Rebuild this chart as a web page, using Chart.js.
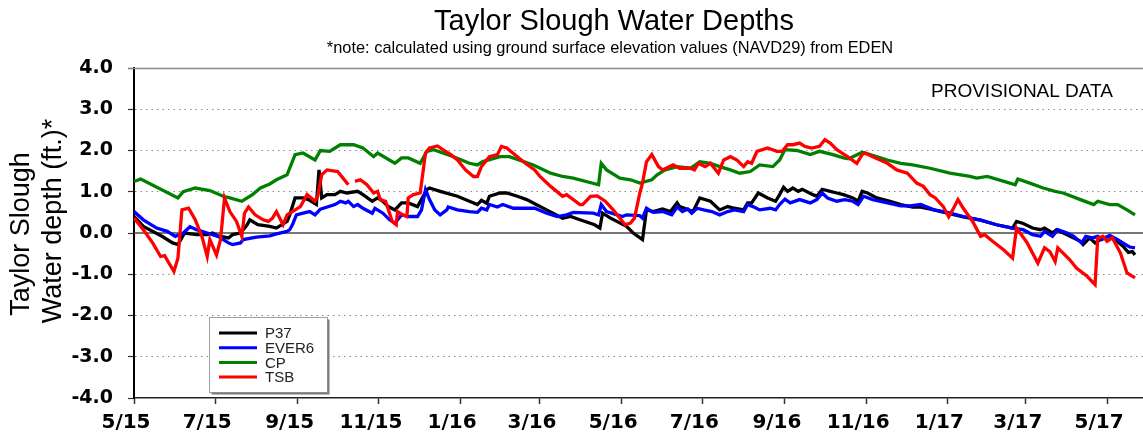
<!DOCTYPE html>
<html>
<head>
<meta charset="utf-8">
<title>Taylor Slough Water Depths</title>
<script src="https://cdn.jsdelivr.net/npm/chart.js@4.4.1/dist/chart.umd.min.js"></script>
<style>
  html, body { margin: 0; padding: 0; background: #fff; }
</style>
</head>
<body>
<canvas id="depths" width="1143" height="441"></canvas>
<script>
// day numbers are counted from 1 May 2015
const START = Date.UTC(2015, 4, 1);
const dayOf = s => { const [y, m, d] = s.split('-').map(Number); return (Date.UTC(y, m - 1, d) - START) / 864e5; };

const tickMonths = ['2015-05-01', '2015-07-01', '2015-09-01', '2015-11-01', '2016-01-01', '2016-03-01', '2016-05-01',
                    '2016-07-01', '2016-09-01', '2016-11-01', '2017-01-01', '2017-03-01', '2017-05-01'];
const tickLabels = ['5/15', '7/15', '9/15', '11/15', '1/16', '3/16', '5/16', '7/16', '9/16', '11/16', '1/17', '3/17', '5/17'];
const depthTicks = [-4, -3, -2, -1, 0, 1, 2, 3, 4];
const LAST_DAY = 758;

const seriesNames = ['P37', 'EVER6', 'CP', 'TSB'];
const seriesColors = ['#000000', '#0000ff', '#008000', '#ff0000'];

const p37Days = [
  0, 7, 21, 29, 33, 38, 47, 55, 59, 63,
  71, 74, 80, 85, 87, 93, 102, 107, 115, 117,
  121, 127, 131, 137, 139, 141, 145, 151, 155, 160,
  168, 172, 179, 183, 187, 191, 196, 201, 206, 213,
  220, 222, 230, 243, 252, 258, 261, 265, 267, 275,
  280, 288, 295, 301, 310, 322, 328, 335, 346, 350,
  352, 358, 370, 375, 382, 385, 390, 397, 403, 408,
  410, 420, 425, 433, 440, 446, 451, 455, 458, 461,
  464, 469, 476, 482, 485, 488, 491, 495, 499, 502,
  510, 513, 517, 523, 528, 533, 540, 544, 547, 551,
  558, 568, 576, 585, 591, 601, 611, 623, 636, 648,
  660, 663, 668, 675, 681, 684, 690, 693, 701, 711,
  713, 718, 722, 728, 733, 737, 743, 747, 750, 752];
const p37Depth = [
  0.40, 0.16, -0.08, -0.24, -0.28, 0.00, -0.04, -0.04, 0.00, -0.07,
  -0.12, -0.04, 0.00, 0.20, 0.32, 0.20, 0.16, 0.12, 0.28, 0.44,
  0.85, 0.85, 0.81, 0.69, 1.53, 0.85, 0.93, 0.93, 1.01, 0.97,
  1.01, 0.93, 0.77, 0.85, 0.77, 0.64, 0.56, 0.73, 0.73, 0.64,
  1.05, 1.09, 1.01, 0.89, 0.77, 0.69, 0.79, 0.72, 0.89, 0.97,
  0.97, 0.89, 0.81, 0.71, 0.56, 0.36, 0.40, 0.32, 0.20, 0.12,
  0.48, 0.36, 0.16, 0.00, -0.16, 0.56, 0.52, 0.58, 0.52, 0.73,
  0.64, 0.52, 0.85, 0.77, 0.56, 0.64, 0.60, 0.58, 0.56, 0.73,
  0.73, 0.97, 0.85, 0.77, 0.93, 1.11, 1.01, 1.09, 1.01, 1.06,
  0.93, 0.89, 1.06, 1.01, 0.97, 0.93, 0.85, 0.77, 1.01, 0.97,
  0.85, 0.77, 0.69, 0.63, 0.63, 0.56, 0.48, 0.39, 0.31, 0.20,
  0.12, 0.28, 0.23, 0.12, 0.08, 0.12, 0.00, 0.08, -0.04, -0.20,
  -0.28, -0.12, -0.24, -0.12, -0.08, -0.16, -0.32, -0.47, -0.45, -0.53];

const ever6Days = [
  0, 7, 17, 25, 31, 37, 42, 47, 55, 63,
  71, 74, 80, 82, 92, 102, 107, 115, 117, 119,
  122, 127, 132, 136, 140, 151, 155, 159, 161, 165,
  168, 172, 179, 181, 187, 192, 196, 201, 207, 213,
  216, 219, 222, 226, 230, 235, 236, 243, 252, 258,
  261, 265, 267, 273, 277, 285, 301, 310, 318, 325,
  330, 345, 349, 351, 355, 363, 367, 370, 380, 382,
  385, 390, 397, 404, 408, 412, 416, 419, 423, 428,
  434, 440, 446, 451, 458, 461, 465, 470, 478, 482,
  485, 489, 493, 500, 508, 513, 517, 521, 528, 534,
  540, 544, 548, 555, 566, 576, 583, 591, 601, 611,
  623, 636, 648, 660, 668, 675, 681, 684, 690, 694,
  701, 706, 712, 715, 720, 724, 727, 733, 739, 745,
  748, 752];
const ever6Depth = [
  0.52, 0.32, 0.12, 0.04, -0.08, 0.00, 0.15, 0.08, 0.00, -0.08,
  -0.24, -0.28, -0.24, -0.16, -0.10, -0.07, -0.02, 0.04, 0.08, 0.20,
  0.44, 0.48, 0.52, 0.44, 0.58, 0.69, 0.77, 0.73, 0.77, 0.64,
  0.69, 0.60, 0.48, 0.60, 0.48, 0.32, 0.24, 0.44, 0.40, 0.40,
  0.56, 1.05, 0.81, 0.56, 0.44, 0.56, 0.63, 0.56, 0.52, 0.50,
  0.60, 0.56, 0.69, 0.63, 0.69, 0.60, 0.60, 0.48, 0.40, 0.44,
  0.50, 0.48, 0.44, 0.69, 0.52, 0.44, 0.40, 0.44, 0.42, 0.36,
  0.60, 0.50, 0.52, 0.44, 0.63, 0.52, 0.58, 0.48, 0.60, 0.56,
  0.52, 0.44, 0.52, 0.56, 0.52, 0.69, 0.64, 0.56, 0.60, 0.56,
  0.69, 0.82, 0.73, 0.81, 0.73, 0.81, 0.97, 0.85, 0.77, 0.81,
  0.77, 0.69, 0.89, 0.81, 0.73, 0.66, 0.66, 0.69, 0.56, 0.50,
  0.40, 0.31, 0.20, 0.12, 0.08, -0.04, -0.08, 0.04, -0.08, 0.08,
  0.00, -0.08, -0.24, -0.08, -0.12, -0.08, -0.16, -0.06, -0.16, -0.28,
  -0.34, -0.36];

const cpDays = [
  0, 5, 33, 37, 46, 57, 67, 72, 81, 89,
  95, 102, 107, 115, 121, 127, 136, 140, 147, 155,
  165, 172, 180, 183, 196, 201, 206, 215, 220, 225,
  240, 252, 258, 262, 275, 282, 300, 313, 322, 330,
  349, 351, 355, 365, 373, 380, 389, 393, 399, 408,
  418, 425, 433, 440, 448, 455, 463, 470, 480, 485,
  489, 498, 508, 515, 525, 533, 537, 547, 553, 566,
  576, 585, 598, 613, 628, 633, 641, 658, 662, 664,
  673, 683, 692, 698, 711, 721, 724, 733, 739, 746,
  752];
const cpDepth = [
  1.25, 1.31, 0.85, 1.00, 1.09, 1.03, 0.89, 0.85, 0.77, 0.93,
  1.09, 1.19, 1.29, 1.41, 1.90, 1.94, 1.77, 2.00, 1.98, 2.14,
  2.14, 2.06, 1.85, 1.94, 1.69, 1.82, 1.82, 1.69, 1.98, 2.02,
  1.85, 1.69, 1.65, 1.73, 1.85, 1.85, 1.65, 1.45, 1.37, 1.33,
  1.17, 1.69, 1.53, 1.33, 1.29, 1.21, 1.29, 1.41, 1.53, 1.61,
  1.57, 1.73, 1.69, 1.61, 1.53, 1.45, 1.49, 1.65, 1.61, 1.77,
  2.02, 2.00, 1.90, 1.98, 1.90, 1.82, 1.80, 1.96, 1.90, 1.77,
  1.69, 1.65, 1.57, 1.45, 1.37, 1.33, 1.37, 1.21, 1.17, 1.31,
  1.21, 1.09, 1.01, 0.97, 0.81, 0.69, 0.77, 0.69, 0.69, 0.56,
  0.44];

// null leaves the short break in the TSB record
const tsbDays = [
  0, 7, 14, 20, 23, 27, 30, 33, 36, 41,
  46, 51, 55, 57, 62, 65, 68, 72, 77, 81,
  83, 86, 91, 97, 101, 104, 107, 112, 115, 119,
  125, 130, 136, 138, 141, 145, 153, 157, 161, 163,
  166, 170, 175, 180, 183, 185, 189, 194, 197, 198,
  202, 205, 206, 210, 215, 219, 222, 228, 232, 238,
  243, 249, 255, 258, 261, 264, 267, 273, 276, 280,
  288, 294, 301, 305, 313, 322, 325, 335, 337, 343,
  348, 354, 360, 367, 369, 373, 376, 380, 382, 385,
  389, 394, 397, 405, 410, 418, 421, 424, 429, 433,
  439, 443, 448, 453, 458, 461, 464, 468, 476, 483,
  487, 491, 495, 500, 504, 509, 515, 519, 523, 528,
  536, 543, 547, 549, 555, 566, 573, 581, 588, 593,
  598, 602, 608, 612, 615, 619, 623, 630, 636, 639,
  645, 653, 660, 663, 671, 679, 684, 688, 692, 694,
  703, 708, 716, 722, 724, 728, 731, 735, 741, 746,
  752];
const tsbDepth = [
  0.36, 0.08, -0.24, -0.57, -0.55, -0.77, -0.93, -0.61, 0.56, 0.60,
  0.32, -0.08, -0.57, -0.16, -0.53, -0.16, 0.85, 0.52, 0.28, -0.08,
  0.48, 0.63, 0.44, 0.32, 0.28, 0.36, 0.52, 0.20, 0.44, 0.52,
  0.64, 0.93, 0.77, 0.89, 1.41, 1.53, 1.49, 1.33, 1.17, null,
  1.25, 1.29, 1.17, 0.97, 1.01, 0.81, 0.77, 0.28, 0.20, 0.52,
  0.44, 0.40, 0.85, 0.93, 0.97, 1.94, 2.06, 2.11, 2.02, 1.90,
  1.77, 1.53, 1.37, 1.37, 1.61, 1.73, 1.85, 1.90, 2.10, 2.06,
  1.85, 1.69, 1.53, 1.37, 1.13, 0.89, 0.93, 0.69, 0.69, 0.89,
  0.90, 0.77, 0.56, 0.28, 0.20, 0.24, 0.36, 0.97, 1.21, 1.73,
  1.90, 1.61, 1.53, 1.65, 1.57, 1.57, 1.53, 1.69, 1.61, 1.69,
  1.45, 1.77, 1.85, 1.77, 1.61, 1.73, 1.69, 1.98, 2.06, 1.98,
  1.98, 2.14, 2.14, 2.18, 2.10, 2.06, 2.10, 2.26, 2.18, 2.02,
  1.85, 1.69, 1.90, 1.94, 1.85, 1.69, 1.53, 1.45, 1.21, 1.13,
  0.93, 0.85, 0.64, 0.39, 0.56, 0.81, 0.60, 0.28, -0.08, -0.04,
  -0.20, -0.40, -0.61, 0.12, -0.24, -0.73, -0.36, -0.45, -0.69, -0.36,
  -0.65, -0.85, -1.05, -1.25, -0.12, -0.08, -0.20, -0.12, -0.48, -0.97,
  -1.09];

const seriesDays = [p37Days, ever6Days, cpDays, tsbDays];
const seriesDepth = [p37Depth, ever6Depth, cpDepth, tsbDepth];
const tickDays = tickMonths.map(dayOf);

const ARIAL = '"Liberation Sans", Arial, sans-serif';
const BOLD_TICKS = '"DejaVu Sans", Verdana, sans-serif';

// headings, provisional stamp, axis title, zero/top rules and legend box
const decorations = {
  id: 'decorations',
  beforeDatasetsDraw(chart) {
    const { ctx, chartArea, scales: { y } } = chart;
    ctx.save();
    ctx.lineWidth = 1.5;
    ctx.strokeStyle = '#8c8c8c';
    ctx.beginPath();
    ctx.moveTo(chartArea.left - 6, Math.round(y.getPixelForValue(4)) + 0.5);
    ctx.lineTo(chartArea.right, Math.round(y.getPixelForValue(4)) + 0.5);
    ctx.stroke();
    ctx.strokeStyle = '#4a4a4a';
    ctx.beginPath();
    ctx.moveTo(chartArea.left, y.getPixelForValue(0));
    ctx.lineTo(chartArea.right, y.getPixelForValue(0));
    ctx.stroke();
    ctx.restore();
  },
  afterDraw(chart) {
    const { ctx } = chart;
    ctx.save();
    ctx.fillStyle = '#000';
    ctx.textAlign = 'center';
    ctx.textBaseline = 'alphabetic';
    ctx.font = '29px ' + ARIAL;
    ctx.fillText('Taylor Slough Water Depths', 614, 30);
    ctx.font = '16.4px ' + ARIAL;
    ctx.fillText('*note: calculated using ground surface elevation values (NAVD29) from EDEN', 610, 53);
    ctx.font = '19px ' + ARIAL;
    ctx.fillText('PROVISIONAL DATA', 1022, 97);

    ctx.font = '27px ' + ARIAL;
    ctx.save();
    ctx.translate(29, 234);
    ctx.rotate(-Math.PI / 2);
    ctx.fillText('Taylor Slough', 0, 0);
    ctx.restore();
    ctx.save();
    ctx.translate(61, 221);
    ctx.rotate(-Math.PI / 2);
    ctx.fillText('Water depth (ft.)*', 0, 0);
    ctx.restore();

    // legend
    const bx = 209.5, by = 317.5, bw = 118, bh = 75;
    ctx.fillStyle = '#fff';
    ctx.fillRect(bx, by, bw, bh);
    ctx.strokeStyle = '#a0a0a0';
    ctx.lineWidth = 1;
    ctx.strokeRect(bx, by, bw, bh);
    ctx.strokeStyle = '#7a7a7a';
    ctx.lineWidth = 2;
    ctx.beginPath();
    ctx.moveTo(bx + 2, by + bh + 1);
    ctx.lineTo(bx + bw + 1, by + bh + 1);
    ctx.lineTo(bx + bw + 1, by + 2);
    ctx.stroke();
    ctx.font = '15px ' + ARIAL;
    ctx.textAlign = 'left';
    ctx.textBaseline = 'middle';
    seriesNames.forEach((name, i) => {
      const ry = 333 + i * 14.7;
      ctx.strokeStyle = seriesColors[i];
      ctx.lineWidth = 3;
      ctx.beginPath();
      ctx.moveTo(219, ry);
      ctx.lineTo(257, ry);
      ctx.stroke();
      ctx.fillStyle = '#222';
      ctx.fillText(name, 265, ry + 1);
    });
    ctx.restore();
  }
};

new Chart(document.getElementById('depths'), {
  type: 'line',
  data: {
    datasets: seriesNames.map((name, i) => ({
      label: name,
      data: seriesDays[i].map((d, k) => ({ x: d, y: seriesDepth[i][k] })),
      borderColor: seriesColors[i],
      borderWidth: 3.3,
      pointRadius: 0,
      tension: 0,
      spanGaps: false,
      order: seriesNames.length - 1 - i
    }))
  },
  options: {
    responsive: false,
    animation: false,
    devicePixelRatio: 1,
    layout: { padding: { top: 68, right: 0, bottom: 0, left: 0 } },
    plugins: { legend: { display: false }, tooltip: { enabled: false } },
    scales: {
      x: {
        type: 'linear',
        min: 0,
        max: LAST_DAY,
        afterFit(s) { s.height = 43; },
        afterBuildTicks(s) { s.ticks = tickDays.map(v => ({ value: v })); },
        ticks: {
          autoSkip: false,
          maxRotation: 0,
          labelOffset: -8,
          padding: 7,
          color: '#000',
          font: { family: BOLD_TICKS, weight: 'bold', size: 20 },
          callback: (v, i) => tickLabels[i]
        },
        grid: { drawOnChartArea: false, drawTicks: true, tickLength: 6, tickColor: '#333', tickWidth: 1.5 },
        border: { color: '#222', width: 1.5 }
      },
      y: {
        min: -4,
        max: 4,
        afterFit(s) { s.width = 134; },
        afterBuildTicks(s) { s.ticks = depthTicks.map(v => ({ value: v })); },
        ticks: {
          padding: 15,
          color: '#000',
          font: { family: BOLD_TICKS, weight: 'bold', size: 19 },
          callback: v => v.toFixed(1)
        },
        grid: {
          color: c => (c.tick && Math.abs(c.tick.value) % 4 !== 0) ? '#8c8c8c' : 'rgba(0,0,0,0)',
          lineWidth: 1,
          drawTicks: true,
          tickLength: 6,
          tickColor: '#333',
          tickWidth: 1.2,
          tickBorderDash: []
        },
        border: { color: '#000', width: 2, dash: [1.5, 4] }
      }
    }
  },
  plugins: [decorations]
});
</script>
</body>
</html>
